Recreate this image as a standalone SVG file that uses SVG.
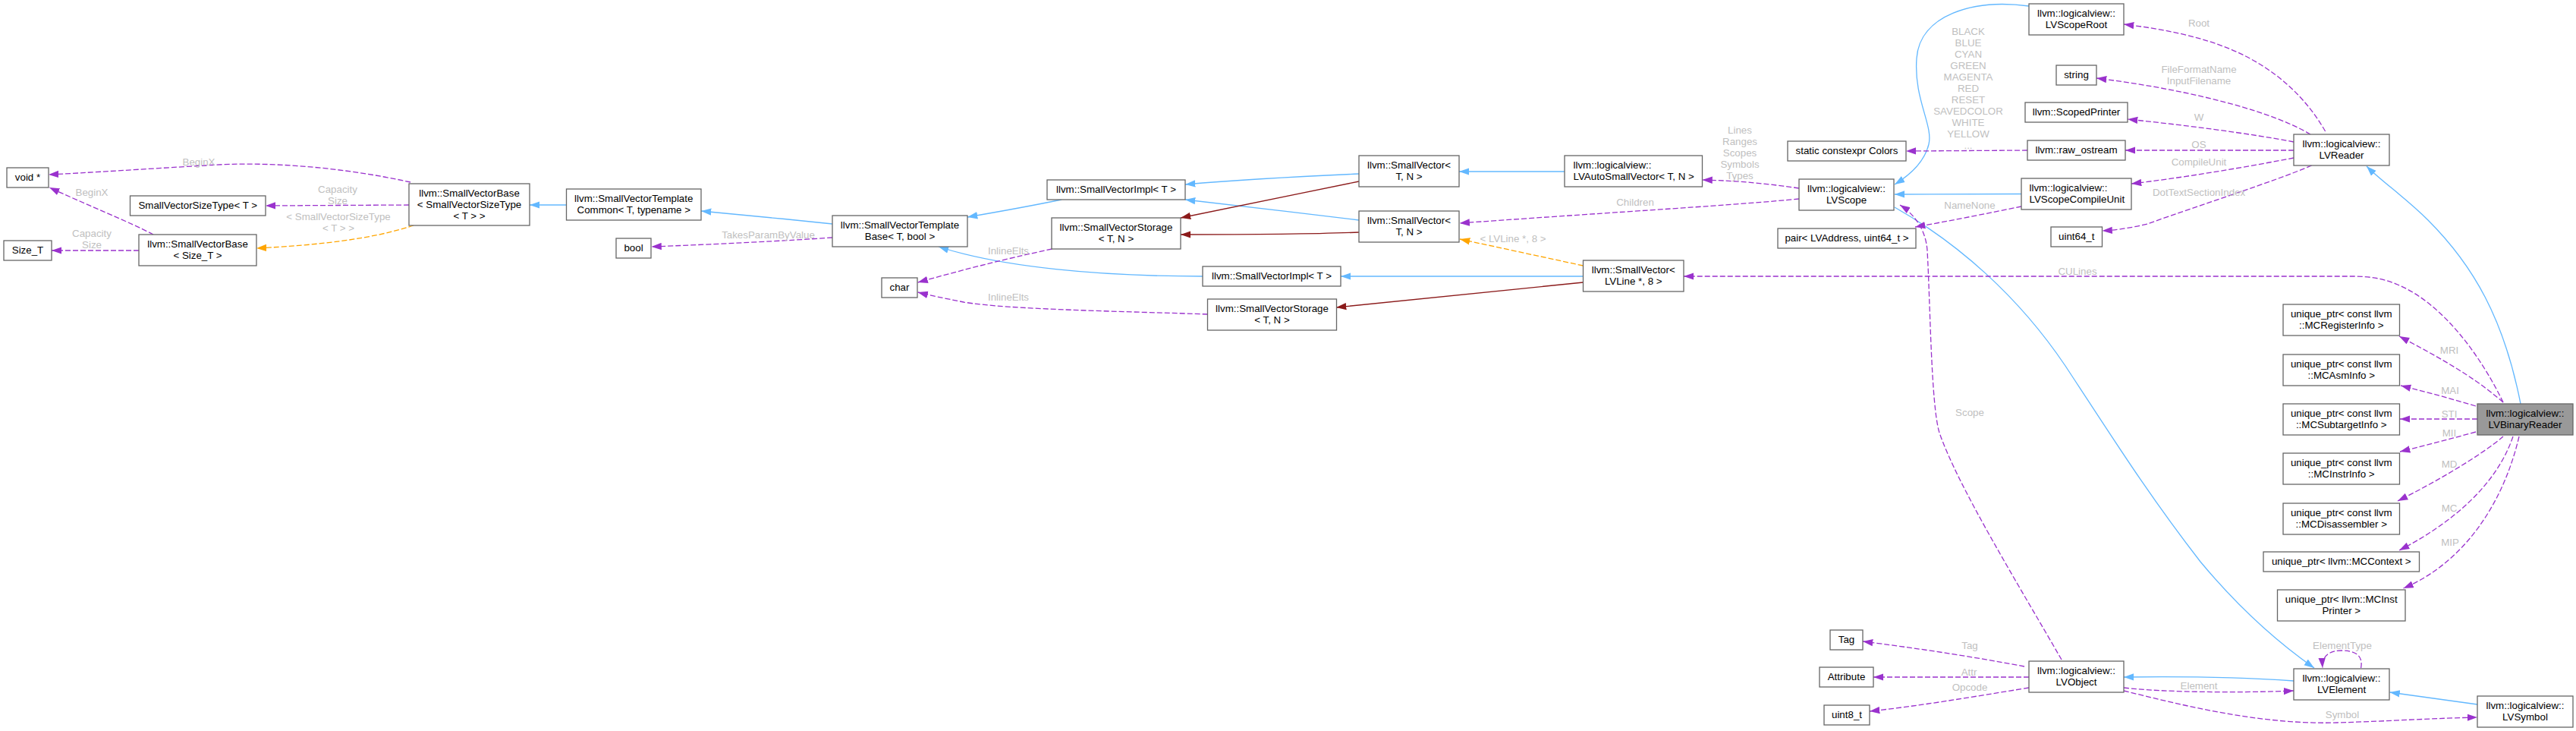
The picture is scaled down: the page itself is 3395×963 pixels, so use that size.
<svg xmlns="http://www.w3.org/2000/svg" width="3395" height="963" viewBox="0 0 3395 963">
<style>
text{font-family:"Liberation Sans",Arial,Helvetica,sans-serif;font-size:13.33px;}
.n rect{fill:#ffffff;stroke:#666666;stroke-width:1.3;}
.n text{fill:#000000;text-anchor:middle;}
.n text.l{text-anchor:start;}
#LVBinaryReader rect{fill:#999999;}
.e{fill:none;stroke-width:1.3;}
.b{stroke:#63b8ff;marker-end:url(#ab);}
.r{stroke:#8b1a1a;marker-end:url(#ar);}
.o{stroke:#ffa500;stroke-dasharray:7,3;marker-end:url(#ao);}
.p{stroke:#9a32cd;stroke-dasharray:7,3;marker-end:url(#ap);}
.lb{fill:#c0c0c0;text-anchor:middle;}
</style>
<defs>
<marker id="ab" markerUnits="userSpaceOnUse" markerWidth="14" markerHeight="10" viewBox="0 0 14 10" refX="13.3" refY="5" orient="auto"><path d="M0,0.3 L13.3,5 L0,9.7 z" fill="#63b8ff"/></marker>
<marker id="ar" markerUnits="userSpaceOnUse" markerWidth="14" markerHeight="10" viewBox="0 0 14 10" refX="13.3" refY="5" orient="auto"><path d="M0,0.3 L13.3,5 L0,9.7 z" fill="#8b1a1a"/></marker>
<marker id="ao" markerUnits="userSpaceOnUse" markerWidth="14" markerHeight="10" viewBox="0 0 14 10" refX="13.3" refY="5" orient="auto"><path d="M0,0.3 L13.3,5 L0,9.7 z" fill="#ffa500"/></marker>
<marker id="ap" markerUnits="userSpaceOnUse" markerWidth="14" markerHeight="10" viewBox="0 0 14 10" refX="13.3" refY="5" orient="auto"><path d="M0,0.3 L13.3,5 L0,9.7 z" fill="#9a32cd"/></marker>
</defs>
<rect x="0" y="0" width="3395" height="963" fill="#ffffff"/>
<g id="connectors">
<path class="e b" d="M746.5,270 L698,270"/>
<path class="e b" d="M1097,295 C1040,289 970,282 924,278"/>
<path class="e b" d="M1399,263 C1360,271 1310,280 1275,286"/>
<path class="e b" d="M1585,364 C1450,364 1320,352 1237,325"/>
<path class="e b" d="M1791,229 C1700,233 1620,238 1562,243"/>
<path class="e b" d="M1791,290 C1720,281 1620,270 1562,263"/>
<path class="e b" d="M2062,226 L1923,226"/>
<path class="e b" d="M2086.5,364 L1767,364"/>
<path class="e b" d="M2674,8 C2600,-2 2530,20 2526,77 C2522,130 2548,165 2542,190 C2536,215 2515,232 2497,243"/>
<path class="e b" d="M2664,255.5 L2497,256"/>
<path class="e b" d="M3322,532 C3300,420 3260,350 3200,290 C3170,260 3140,240 3119,219"/>
<path class="e b" d="M2497,273 C2580,320 2660,390 2722,482 C2780,570 2830,650 2900,740 C2950,800 3000,845 3050,880"/>
<path class="e b" d="M3023,897 C2950,892 2870,891 2799,892"/>
<path class="e b" d="M3265,928 L3149.5,912"/>
<path class="e r" d="M1791,239 C1700,258 1620,274 1556,287"/>
<path class="e r" d="M1791,306 C1720,309 1620,309 1556,309"/>
<path class="e r" d="M2086.5,372 L1761,405"/>
<path class="e o" d="M545,297 C490,315 420,323 338,327"/>
<path class="e o" d="M2086.5,350 L1924,315"/>
<path class="e p" d="M541,240 C450,220 350,212 271,218 C200,222 110,228 64,230"/>
<path class="e p" d="M539,270 L350,271"/>
<path class="e p" d="M202,309 C170,292 110,268 65,247"/>
<path class="e p" d="M183,330 L68,330"/>
<path class="e p" d="M1097,313 C1040,317 940,322 858.5,325"/>
<path class="e p" d="M1386.5,328 C1320,342 1260,358 1209.6,372"/>
<path class="e p" d="M1591.6,414 C1480,410 1330,408 1270,398 C1245,393 1225,389 1209.6,385"/>
<path class="e p" d="M2371,248 C2330,242 2290,238 2243.5,237"/>
<path class="e p" d="M2371,262 C2290,270 2150,278 1923.6,294"/>
<path class="e p" d="M2664,272 C2620,281 2570,291 2524,299"/>
<path class="e p" d="M3064.6,173 C3040,130 3000,90 2940,65 C2900,48 2850,38 2799,32"/>
<path class="e p" d="M3045,177 C3000,150 2900,120 2763,103"/>
<path class="e p" d="M3023,187 C2960,175 2880,165 2804,157"/>
<path class="e p" d="M3023,198 L2801,198"/>
<path class="e p" d="M2672,198 L2512,199"/>
<path class="e p" d="M3023,208 C2950,222 2870,235 2809,242"/>
<path class="e p" d="M3046.6,218 C3000,238 2900,270 2830,295 C2810,300 2790,303 2770.5,304"/>
<path class="e p" d="M3299,530 C3270,470 3220,400 3160,375 C3140,366 3120,364 3100,364 L2219,364"/>
<path class="e p" d="M3299,530 C3270,505 3240,484 3162,443"/>
<path class="e p" d="M3263,535 C3230,525 3200,517 3164,508"/>
<path class="e p" d="M3265,552 L3163,552"/>
<path class="e p" d="M3263,569 C3230,578 3200,586 3163,595"/>
<path class="e p" d="M3299,575 C3270,600 3210,635 3160,660"/>
<path class="e p" d="M3312,575 C3290,640 3230,690 3162,725"/>
<path class="e p" d="M3320,575 C3300,660 3250,740 3167.5,775"/>
<path class="e p" d="M2717,869 C2660,770 2580,640 2556,570 C2545,535 2544,400 2540,330 C2538,300 2520,280 2504,270"/>
<path class="e p" d="M2668,878 C2600,865 2520,853 2455,845"/>
<path class="e p" d="M2674,892 L2469,892"/>
<path class="e p" d="M2674,906 C2600,918 2530,930 2464,937"/>
<path class="e p" d="M2799,906 C2850,912 2950,913 3023,910"/>
<path class="e p" d="M2799,910 C2880,930 2980,955 3080,952 C3150,950 3210,946 3265,945"/>
<path class="e p" d="M3111.6,880 C3115,862 3102,857 3086,857 C3070,857 3060,864 3061,880"/>
<text class="lb" x="262" y="217.5">BeginX</text>
<text class="lb" x="445" y="253.5">Capacity</text>
<text class="lb" x="445" y="268.5">Size</text>
<text class="lb" x="446" y="289.5">&lt; SmallVectorSizeType</text>
<text class="lb" x="446" y="304.5">&lt; T &gt; &gt;</text>
<text class="lb" x="121" y="257.5">BeginX</text>
<text class="lb" x="121" y="312">Capacity</text>
<text class="lb" x="121" y="327">Size</text>
<text class="lb" x="1012.5" y="314">TakesParamByValue</text>
<text class="lb" x="1329" y="335">InlineElts</text>
<text class="lb" x="1329" y="396">InlineElts</text>
<text class="lb" x="1994" y="318.5">&lt; LVLine *, 8 &gt;</text>
<text class="lb" x="2155" y="271">Children</text>
<text class="lb" x="2293" y="176">Lines</text>
<text class="lb" x="2293" y="191">Ranges</text>
<text class="lb" x="2293" y="206">Scopes</text>
<text class="lb" x="2293" y="221">Symbols</text>
<text class="lb" x="2293" y="236">Types</text>
<text class="lb" x="2594" y="45.5">BLACK</text>
<text class="lb" x="2594" y="60.5">BLUE</text>
<text class="lb" x="2594" y="75.5">CYAN</text>
<text class="lb" x="2594" y="90.5">GREEN</text>
<text class="lb" x="2594" y="105.5">MAGENTA</text>
<text class="lb" x="2594" y="120.5">RED</text>
<text class="lb" x="2594" y="135.5">RESET</text>
<text class="lb" x="2594" y="150.5">SAVEDCOLOR</text>
<text class="lb" x="2594" y="165.5">WHITE</text>
<text class="lb" x="2594" y="180.5">YELLOW</text>
<text class="lb" x="2594" y="195.5">...</text>
<text class="lb" x="2596" y="275">NameNone</text>
<text class="lb" x="2738" y="361.5">CULines</text>
<text class="lb" x="2898" y="35">Root</text>
<text class="lb" x="2898" y="96">FileFormatName</text>
<text class="lb" x="2898" y="111">InputFilename</text>
<text class="lb" x="2898" y="158.5">W</text>
<text class="lb" x="2898" y="195">OS</text>
<text class="lb" x="2898" y="218">CompileUnit</text>
<text class="lb" x="2898" y="258">DotTextSectionIndex</text>
<text class="lb" x="3228" y="466">MRI</text>
<text class="lb" x="3229" y="519">MAI</text>
<text class="lb" x="3228" y="550">STI</text>
<text class="lb" x="3228" y="575">MII</text>
<text class="lb" x="3228" y="616">MD</text>
<text class="lb" x="3228" y="674">MC</text>
<text class="lb" x="3229" y="719">MIP</text>
<text class="lb" x="3087" y="854.5">ElementType</text>
<text class="lb" x="2898" y="907.5">Element</text>
<text class="lb" x="3087" y="945.5">Symbol</text>
<text class="lb" x="2596" y="548">Scope</text>
<text class="lb" x="2596" y="855">Tag</text>
<text class="lb" x="2595" y="889.5">Attr</text>
<text class="lb" x="2596" y="909.5">Opcode</text>
</g>
<g id="void_ptr" class="n"><rect x="9" y="221" width="55" height="26"/><text x="36.5" y="238">void *</text></g>
<g id="SmallVectorSizeType" class="n"><rect x="171.5" y="258" width="178.5" height="26"/><text x="260.75" y="275">SmallVectorSizeType&lt; T &gt;</text></g>
<g id="Size_T" class="n"><rect x="5" y="317" width="63" height="26"/><text x="36.5" y="334">Size_T</text></g>
<g id="SmallVectorBase_Size_T" class="n"><rect x="183" y="309" width="155" height="41"/><text x="260.5" y="326">llvm::SmallVectorBase</text><text x="260.5" y="341">&lt; Size_T &gt;</text></g>
<g id="SmallVectorBase_SVST" class="n"><rect x="539" y="242" width="159" height="55"/><text x="618.5" y="258.5">llvm::SmallVectorBase</text><text x="618.5" y="273.5">&lt; SmallVectorSizeType</text><text x="618.5" y="288.5">&lt; T &gt; &gt;</text></g>
<g id="SmallVectorTemplateCommon" class="n"><rect x="746.5" y="249" width="177.5" height="41"/><text x="835.25" y="265.5">llvm::SmallVectorTemplate</text><text x="835.25" y="280.5">Common&lt; T, typename &gt;</text></g>
<g id="bool" class="n"><rect x="812" y="314" width="46" height="26"/><text x="835" y="331">bool</text></g>
<g id="SmallVectorTemplateBase" class="n"><rect x="1097" y="284" width="178" height="41"/><text x="1186" y="300.5">llvm::SmallVectorTemplate</text><text x="1186" y="315.5">Base&lt; T, bool &gt;</text></g>
<g id="char" class="n"><rect x="1162" y="366" width="47" height="26"/><text x="1185.5" y="383">char</text></g>
<g id="SmallVectorImpl_1" class="n"><rect x="1380" y="237" width="182" height="26"/><text x="1471" y="254">llvm::SmallVectorImpl&lt; T &gt;</text></g>
<g id="SmallVectorStorage_1" class="n"><rect x="1386" y="287" width="170" height="41"/><text x="1471" y="303.5">llvm::SmallVectorStorage</text><text x="1471" y="318.5">&lt; T, N &gt;</text></g>
<g id="SmallVectorImpl_2" class="n"><rect x="1585" y="351" width="182" height="26"/><text x="1676" y="368">llvm::SmallVectorImpl&lt; T &gt;</text></g>
<g id="SmallVectorStorage_2" class="n"><rect x="1591.5" y="394" width="170" height="41"/><text x="1676.5" y="410.5">llvm::SmallVectorStorage</text><text x="1676.5" y="425.5">&lt; T, N &gt;</text></g>
<g id="SmallVector_1" class="n"><rect x="1791" y="205" width="132" height="41"/><text x="1857" y="221.5">llvm::SmallVector&lt;</text><text x="1857" y="236.5">T, N &gt;</text></g>
<g id="SmallVector_2" class="n"><rect x="1791" y="278" width="132" height="41"/><text x="1857" y="294.5">llvm::SmallVector&lt;</text><text x="1857" y="309.5">T, N &gt;</text></g>
<g id="LVAutoSmallVector" class="n"><rect x="2062" y="205" width="181.5" height="41"/><text class="l" x="2073.5" y="221.5">llvm::logicalview::</text><text class="l" x="2073.5" y="236.5">LVAutoSmallVector&lt; T, N &gt;</text></g>
<g id="SmallVector_LVLine" class="n"><rect x="2086.5" y="343" width="132.5" height="41"/><text x="2152.75" y="359.5">llvm::SmallVector&lt;</text><text x="2152.75" y="374.5">LVLine *, 8 &gt;</text></g>
<g id="LVScopeRoot" class="n"><rect x="2674" y="5" width="125" height="41"/><text x="2736.5" y="21.5">llvm::logicalview::</text><text x="2736.5" y="36.5">LVScopeRoot</text></g>
<g id="string" class="n"><rect x="2710" y="86" width="53" height="26"/><text x="2736.5" y="103">string</text></g>
<g id="ScopedPrinter" class="n"><rect x="2669" y="135" width="135" height="26"/><text x="2736.5" y="152">llvm::ScopedPrinter</text></g>
<g id="Colors" class="n"><rect x="2356" y="186" width="156" height="26"/><text x="2434" y="203">static constexpr Colors</text></g>
<g id="raw_ostream" class="n"><rect x="2672" y="185" width="129" height="26"/><text x="2736.5" y="202">llvm::raw_ostream</text></g>
<g id="LVScope" class="n"><rect x="2371" y="236" width="125" height="41"/><text x="2433.5" y="252.5">llvm::logicalview::</text><text x="2433.5" y="267.5">LVScope</text></g>
<g id="LVScopeCompileUnit" class="n"><rect x="2664" y="235" width="145" height="41"/><text class="l" x="2674.5" y="251.5">llvm::logicalview::</text><text class="l" x="2674.5" y="266.5">LVScopeCompileUnit</text></g>
<g id="pair" class="n"><rect x="2343" y="301" width="182" height="26"/><text x="2434" y="318">pair&lt; LVAddress, uint64_t &gt;</text></g>
<g id="uint64_t" class="n"><rect x="2703" y="299" width="67.5" height="26"/><text x="2736.75" y="316">uint64_t</text></g>
<g id="LVReader" class="n"><rect x="3023" y="177" width="126" height="41"/><text x="3086" y="193.5">llvm::logicalview::</text><text x="3086" y="208.5">LVReader</text></g>
<g id="MCRegisterInfo" class="n"><rect x="3009" y="401" width="153.5" height="41"/><text x="3085.75" y="417.5">unique_ptr&lt; const llvm</text><text x="3085.75" y="432.5">::MCRegisterInfo &gt;</text></g>
<g id="MCAsmInfo" class="n"><rect x="3009" y="467" width="153.5" height="41"/><text x="3085.75" y="483.5">unique_ptr&lt; const llvm</text><text x="3085.75" y="498.5">::MCAsmInfo &gt;</text></g>
<g id="MCSubtargetInfo" class="n"><rect x="3009" y="532" width="153.5" height="41"/><text x="3085.75" y="548.5">unique_ptr&lt; const llvm</text><text x="3085.75" y="563.5">::MCSubtargetInfo &gt;</text></g>
<g id="MCInstrInfo" class="n"><rect x="3009" y="597" width="153.5" height="41"/><text x="3085.75" y="613.5">unique_ptr&lt; const llvm</text><text x="3085.75" y="628.5">::MCInstrInfo &gt;</text></g>
<g id="MCDisassembler" class="n"><rect x="3009" y="663" width="153.5" height="41"/><text x="3085.75" y="679.5">unique_ptr&lt; const llvm</text><text x="3085.75" y="694.5">::MCDisassembler &gt;</text></g>
<g id="MCContext" class="n"><rect x="2983" y="727" width="205.5" height="26"/><text x="3085.75" y="744">unique_ptr&lt; llvm::MCContext &gt;</text></g>
<g id="MCInstPrinter" class="n"><rect x="3001.5" y="777" width="168.5" height="41"/><text x="3085.75" y="793.5">unique_ptr&lt; llvm::MCInst</text><text x="3085.75" y="808.5">Printer &gt;</text></g>
<g id="LVBinaryReader" class="n"><rect x="3265" y="532" width="126" height="41"/><text x="3328" y="548.5">llvm::logicalview::</text><text x="3328" y="563.5">LVBinaryReader</text></g>
<g id="LVElement" class="n"><rect x="3023" y="881" width="126" height="41"/><text x="3086" y="897.5">llvm::logicalview::</text><text x="3086" y="912.5">LVElement</text></g>
<g id="LVSymbol" class="n"><rect x="3265" y="917" width="126" height="41"/><text x="3328" y="933.5">llvm::logicalview::</text><text x="3328" y="948.5">LVSymbol</text></g>
<g id="Tag" class="n"><rect x="2412" y="830" width="43" height="26"/><text x="2433.5" y="847">Tag</text></g>
<g id="Attribute" class="n"><rect x="2398" y="879" width="71" height="26"/><text x="2433.5" y="896">Attribute</text></g>
<g id="uint8_t" class="n"><rect x="2404" y="929" width="60" height="26"/><text x="2434" y="946">uint8_t</text></g>
<g id="LVObject" class="n"><rect x="2674" y="871" width="125" height="41"/><text x="2736.5" y="887.5">llvm::logicalview::</text><text x="2736.5" y="902.5">LVObject</text></g>
</svg>
